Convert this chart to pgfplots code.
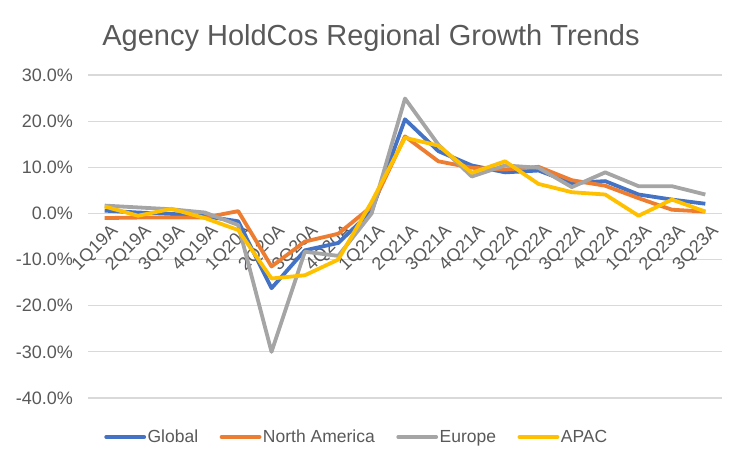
\documentclass[border=0pt]{standalone}
\usepackage{pgfplots}
\pgfplotsset{compat=1.18}
\usepackage{fontspec}
\setmainfont{Liberation Sans}
\definecolor{cGlobal}{HTML}{4472C4}
\definecolor{cNA}{HTML}{ED7D31}
\definecolor{cEU}{HTML}{A5A5A5}
\definecolor{cAPAC}{HTML}{FFC000}
\definecolor{txt}{HTML}{595959}
\definecolor{grid}{HTML}{D9D9D9}
\begin{document}
\begin{tikzpicture}
\path[use as bounding box] (0,0) rectangle (745pt,467pt);
\node[anchor=base, text=txt, font=\fontsize{29}{33}\selectfont, inner sep=0pt] at (371pt,421pt) {Agency HoldCos Regional Growth Trends};
\begin{axis}[
  at={(88pt,69pt)}, anchor=south west,
  scale only axis, width=634pt, height=323pt,
  xmin=-0.5, xmax=18.5, ymin=-40, ymax=30,
  axis x line*=middle, axis y line*=left,
  hide obscured x ticks=false, hide obscured y ticks=false,
  x axis line style={draw=grid, line width=1.2pt},
  y axis line style={draw=none},
  major tick length=0pt,
  ytick={-40,-30,-20,-10,0,10,20,30},
  ymajorgrids, grid style={draw=grid, line width=1.2pt},
  xtick={0,...,18},
  xticklabels={1Q19A,2Q19A,3Q19A,4Q19A,1Q20A,2Q20A,3Q20A,4Q20A,1Q21A,2Q21A,3Q21A,4Q21A,1Q22A,2Q22A,3Q22A,4Q22A,1Q23A,2Q23A,3Q23A},
  xticklabel style={rotate=45, anchor=north east, inner sep=0pt, xshift=-3pt, yshift=-10pt, font=\fontsize{18}{20}\selectfont, text=txt},
  yticklabel={\pgfmathprintnumber[fixed, fixed zerofill, precision=1, assume math mode=true]{\tick}\%},
  yticklabel style={anchor=east, inner sep=0pt, xshift=-15pt, font=\fontsize{18}{20}\selectfont, text=txt},
  every axis plot/.append style={line width=3.8pt, line join=round, no markers},
  legend columns=4,
  legend style={at={(0.4235,-0.1207)}, anchor=center, draw=none, fill=none, inner sep=0pt,
    font=\fontsize{17.5}{20}\selectfont, text=txt,
    /tikz/every even column/.append style={column sep=20pt},
    nodes={inner sep=1.5pt}},
  legend image code/.code={\draw[#1, line width=3.8pt, line cap=round] (0pt,0pt) -- (38pt,0pt);},
]
\addplot[cGlobal] coordinates {(0,0.6)(1,0.2)(2,-0.1)(3,-0.6)(4,-1.7)(5,-16.2)(6,-8.0)(7,-6.4)(8,0.5)(9,20.4)(10,13.5)(11,10.4)(12,8.9)(13,9.3)(14,6.6)(15,7.0)(16,4.1)(17,3.0)(18,2.1)};
\addlegendentry{Global}
\addplot[cNA] coordinates {(0,-1.0)(1,-0.9)(2,-0.9)(3,-0.9)(4,0.5)(5,-11.5)(6,-6.1)(7,-4.4)(8,1.5)(9,16.7)(10,11.3)(11,9.9)(12,9.5)(13,10.1)(14,7.2)(15,6.0)(16,3.3)(17,0.8)(18,0.4)};
\addlegendentry{North America}
\addplot[cEU] coordinates {(0,1.7)(1,1.3)(2,0.9)(3,0.2)(4,-2.5)(5,-30.0)(6,-8.3)(7,-9.2)(8,0.0)(9,24.9)(10,14.9)(11,8.0)(12,10.4)(13,9.9)(14,5.7)(15,8.9)(16,5.9)(17,5.9)(18,4.1)};
\addlegendentry{Europe}
\addplot[cAPAC] coordinates {(0,1.5)(1,-0.5)(2,1.0)(3,-1.0)(4,-3.6)(5,-14.1)(6,-13.4)(7,-10.0)(8,2.5)(9,16.4)(10,14.7)(11,8.8)(12,11.3)(13,6.4)(14,4.6)(15,4.1)(16,-0.5)(17,3.0)(18,0.4)};
\addlegendentry{APAC}
\end{axis}
\end{tikzpicture}
\end{document}
